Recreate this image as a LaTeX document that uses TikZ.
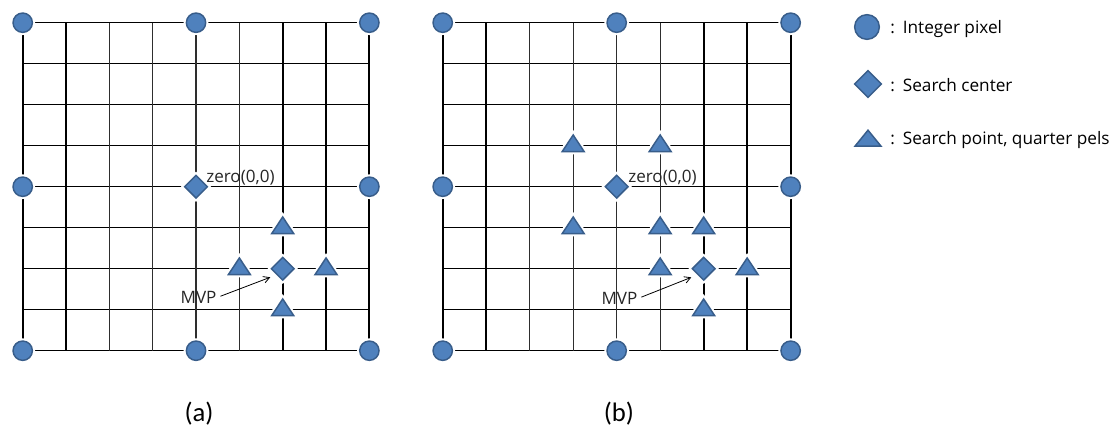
\documentclass[tikz,border=0pt]{standalone}
\usepackage{fontspec}
\setmainfont{Open Sans}
\newfontfamily\capfont{Carlito}
\usetikzlibrary{shapes.geometric,arrows.meta,calc}
\definecolor{mkfill}{RGB}{79,129,189}
\definecolor{mkline}{RGB}{56,93,138}
\begin{document}
\begin{tikzpicture}[x=0.75pt,y=-0.75pt,
  marker/.style={fill=mkfill, draw=mkline, line width=1.1pt, inner sep=0pt,
    preaction={draw=white, line width=4pt}},
  ipix/.style={marker, circle, minimum size=14.5pt},
  sctr/.style={marker, diamond, minimum width=17.5pt, minimum height=17.5pt},
  spt/.style={marker, isosceles triangle, isosceles triangle stretches,
    shape border rotate=90, minimum width=16.5pt, minimum height=12.5pt},
  hline/.style={line width=0.9pt, black},
  vbold/.style={line width=1.5pt, black},
  vthin/.style={line width=1pt, black!82},
  lbl/.style={font=\fontsize{12.8pt}{14pt}\selectfont, text=black!85, inner sep=0pt},
  mvparrow/.style={-{Straight Barb[length=4.5pt,width=5pt]}, line width=0.6pt, shorten <=3pt, shorten >=5pt},
  legtxt/.style={font=\fontsize{12.9pt}{14pt}\selectfont, anchor=base west, inner sep=0pt},
  captxt/.style={font=\capfont\fontsize{20pt}{24pt}\selectfont, inner sep=0pt}
]
\useasboundingbox (0,0) rectangle (1115,432);

% ---------- panel (a) ----------
\begin{scope}[shift={(22.7,22.7)}, x=32.5pt, y=-30.75pt]
  \foreach \j in {0,...,8} \draw[hline] (0,\j) -- (8,\j);
  \foreach \i in {0,1,6,7,8} \draw[vbold] (\i,0) -- (\i,8);
  \foreach \i in {2,3,4,5} \draw[vthin] (\i,0) -- (\i,8);
  \node[ipix] (a-p00) at (0,0) {};
  \node[ipix] (a-p40) at (4,0) {};
  \node[ipix] (a-p80) at (8,0) {};
  \node[ipix] (a-p04) at (0,4) {};
  \node[ipix] (a-p84) at (8,4) {};
  \node[ipix] (a-p08) at (0,8) {};
  \node[ipix] (a-p48) at (4,8) {};
  \node[ipix] (a-p88) at (8,8) {};
  \node[sctr] (a-zero) at (4,4) {};
  \node[sctr] (a-mvp) at (6,6) {};
  \node[spt] (a-t1) at (6,5) {};
  \node[spt] (a-t2) at (5,6) {};
  \node[spt] (a-t3) at (7,6) {};
  \node[spt] (a-t4) at (6,7) {};
  \node[lbl, anchor=base west] (a-zlbl) at ([xshift=7.5pt,yshift=3.4pt]a-zero.center) {zero(0,0)};
  \node[lbl, anchor=base east] (a-mlbl) at ([xshift=-49.5pt,yshift=-26.3pt]a-mvp.center) {MVP};
  \draw[mvparrow] (a-mlbl.east) -- (a-mvp.south west);
\end{scope}

% ---------- panel (b) ----------
\begin{scope}[shift={(442.7,22.7)}, x=32.62pt, y=-30.75pt]
  \foreach \j in {0,...,8} \draw[hline] (0,\j) -- (8,\j);
  \foreach \i in {0,1,6,7,8} \draw[vbold] (\i,0) -- (\i,8);
  \foreach \i in {2,3,4,5} \draw[vthin] (\i,0) -- (\i,8);
  \node[ipix] (b-p00) at (0,0) {};
  \node[ipix] (b-p40) at (4,0) {};
  \node[ipix] (b-p80) at (8,0) {};
  \node[ipix] (b-p04) at (0,4) {};
  \node[ipix] (b-p84) at (8,4) {};
  \node[ipix] (b-p08) at (0,8) {};
  \node[ipix] (b-p48) at (4,8) {};
  \node[ipix] (b-p88) at (8,8) {};
  \node[sctr] (b-zero) at (4,4) {};
  \node[sctr] (b-mvp) at (6,6) {};
  \node[spt] (b-t1) at (3,3) {};
  \node[spt] (b-t2) at (5,3) {};
  \node[spt] (b-t3) at (3,5) {};
  \node[spt] (b-t4) at (5,5) {};
  \node[spt] (b-t5) at (6,5) {};
  \node[spt] (b-t6) at (5,6) {};
  \node[spt] (b-t7) at (7,6) {};
  \node[spt] (b-t8) at (6,7) {};
  \node[lbl, anchor=base west] (b-zlbl) at ([xshift=8.5pt,yshift=3.4pt]b-zero.center) {zero(0,0)};
  \node[lbl, anchor=base east] (b-mlbl) at ([xshift=-49.5pt,yshift=-27pt]b-mvp.center) {MVP};
  \draw[mvparrow] (b-mlbl.east) -- (b-mvp.south west);
\end{scope}

% ---------- legend ----------
\node[ipix, minimum size=18.5pt] (lg-ip) at (867,27) {};
\node[sctr, minimum width=20.5pt, minimum height=20.5pt] (lg-sc) at (868,84) {};
\node[spt, minimum width=19.5pt, minimum height=12pt] (lg-sp) at (868,140) {};
\node[legtxt] (lg-ipt) at (890,33) {:\hspace{6pt}Integer pixel};
\node[legtxt] (lg-sct) at (890,91) {:\hspace{6pt}Search center};
\node[legtxt] (lg-spt) at (890,144) {:\hspace{6pt}Search point, quarter pels};

% ---------- captions ----------
\node[captxt] (cap-a) at (199,414) {(a)};
\node[captxt] (cap-b) at (619,414) {(b)};
\end{tikzpicture}
\end{document}
